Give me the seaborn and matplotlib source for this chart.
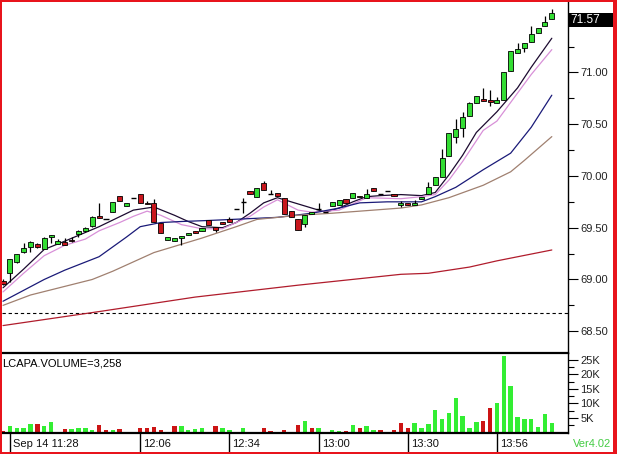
import numpy as np
import pandas as pd
import seaborn as sns
import matplotlib
matplotlib.use("Agg")
import matplotlib.pyplot as plt
from matplotlib.patches import Rectangle
from matplotlib.ticker import FixedLocator, FuncFormatter
import matplotlib.transforms as mtransforms

# candle data, one entry per bar
opens = [68.99, 69.06, 69.17, 69.27, 69.31, 69.34, 69.29, 69.41, 69.34, 69.36,
         69.38, 69.44, 69.47, 69.52, 69.61, 69.58, 69.65, 69.81, 69.71, 69.79,
         69.83, 69.74, 69.74, 69.55, 69.38, 69.37, 69.40, 69.43, 69.47, 69.47,
         69.57, 69.51, 69.56, 69.58, 69.68, 69.75, 69.85, 69.80, 69.93, 69.83,
         69.84, 69.79, 69.66, 69.58, 69.54, 69.63, 69.68, 69.65, 69.71, 69.72,
         69.78, 69.79, 69.81, 69.79, 69.88, 69.83, 69.85, 69.83, 69.72, 69.74,
         69.72, 69.78, 69.83, 69.91, 69.99, 70.19, 70.38, 70.46, 70.58, 70.70,
         70.74, 70.73, 70.70, 70.73, 71.01, 71.19, 71.24, 71.29, 71.38, 71.45,
         71.52]
highs = [69.00, 69.20, 69.25, 69.35, 69.37, 69.35, 69.41, 69.43, 69.39, 69.40,
         69.41, 69.48, 69.51, 69.61, 69.74, 69.58, 69.75, 69.81, 69.74, 69.79,
         69.83, 69.76, 69.78, 69.55, 69.41, 69.40, 69.42, 69.45, 69.47, 69.50,
         69.57, 69.51, 69.56, 69.60, 69.68, 69.79, 69.85, 69.88, 69.95, 69.86,
         69.84, 69.79, 69.66, 69.58, 69.62, 69.65, 69.74, 69.65, 69.75, 69.77,
         69.78, 69.84, 69.81, 69.87, 69.88, 69.83, 69.85, 69.83, 69.76, 69.74,
         69.77, 69.80, 69.94, 69.99, 70.26, 70.41, 70.55, 70.62, 70.71, 70.77,
         70.85, 70.83, 70.76, 71.00, 71.21, 71.28, 71.28, 71.45, 71.43, 71.54,
         71.61]
lows = [68.95, 68.98, 69.16, 69.26, 69.27, 69.30, 69.29, 69.35, 69.34, 69.33,
        69.36, 69.41, 69.46, 69.51, 69.59, 69.58, 69.65, 69.76, 69.71, 69.79,
        69.74, 69.73, 69.56, 69.45, 69.38, 69.37, 69.33, 69.43, 69.45, 69.47,
        69.53, 69.46, 69.54, 69.56, 69.68, 69.64, 69.83, 69.80, 69.86, 69.83,
        69.81, 69.63, 69.60, 69.48, 69.51, 69.63, 69.68, 69.65, 69.71, 69.72,
        69.74, 69.79, 69.80, 69.79, 69.85, 69.83, 69.85, 69.81, 69.70, 69.72,
        69.72, 69.78, 69.83, 69.91, 69.99, 70.19, 70.32, 70.38, 70.58, 70.70,
        70.72, 70.68, 70.70, 70.73, 71.01, 71.19, 71.20, 71.29, 71.38, 71.45,
        71.52]
closes = [68.96, 69.20, 69.25, 69.30, 69.36, 69.31, 69.40, 69.43, 69.37, 69.33,
          69.37, 69.47, 69.50, 69.60, 69.59, 69.58, 69.75, 69.76, 69.74, 69.79,
          69.74, 69.73, 69.56, 69.45, 69.41, 69.40, 69.42, 69.45, 69.45, 69.50,
          69.53, 69.48, 69.54, 69.56, 69.68, 69.75, 69.83, 69.88, 69.86, 69.83,
          69.81, 69.63, 69.60, 69.48, 69.62, 69.65, 69.68, 69.65, 69.75, 69.77,
          69.74, 69.84, 69.80, 69.83, 69.85, 69.83, 69.85, 69.81, 69.74, 69.72,
          69.74, 69.80, 69.89, 69.99, 70.17, 70.41, 70.45, 70.57, 70.70, 70.77,
          70.72, 70.71, 70.73, 71.00, 71.21, 71.23, 71.28, 71.37, 71.43, 71.49,
          71.57]

volumes = [400, 2100, 1700, 1400, 2800, 2800, 2100, 3700, 300, 1100,
           1100, 1500, 1500, 900, 2500, 800, 800, 1100, 300, 300,
           1700, 1500, 1800, 900, 300, 2100, 2100, 900, 1100, 1500,
           300, 2100, 1700, 900, 300, 1500, 300, 300, 1500, 600,
           300, 800, 300, 2500, 4000, 1700, 1700, 300, 800, 500,
           400, 2500, 1700, 2100, 900, 900, 300, 800, 3200, 1500,
           3400, 1400, 2900, 7700, 4600, 6700, 11800, 5700, 1500, 3700,
           4000, 8600, 10100, 26400, 16100, 5500, 4800, 4600, 2000, 6300,
           3258]
vol_dir = list("rgggg" "rgggr" "ggggr" "rgrgr" "rrrrr" "rgggg" "rrggg" "grgrr"
               "rrrrg" "rgggg" "rgrgg" "rrrrr" "ggggg" "ggggg" "rrggg" "ggggg" "g")

# moving averages, read at sample bars
fast_x = [0, 3, 6, 9, 14, 19, 22, 25, 27, 29, 32, 34, 36, 38, 40, 42, 45, 47, 49,
          51, 53, 55, 58, 61, 63, 65, 67, 69, 72, 75, 77, 80]
fast_y = [68.92, 69.10, 69.29, 69.37, 69.51, 69.67, 69.70, 69.62, 69.56, 69.51,
          69.50, 69.55, 69.64, 69.74, 69.79, 69.75, 69.69, 69.65, 69.69, 69.75,
          69.80, 69.81, 69.82, 69.81, 69.84, 70.01, 70.20, 70.42, 70.62, 70.85,
          71.05, 71.33]
mid_x = [0, 3, 6, 9, 12, 14, 17, 19, 21, 23, 26, 29, 32, 36, 38, 40, 43, 45, 49,
         53, 58, 61, 63, 65, 67, 70, 72, 74, 77, 80]
mid_y = [68.88, 69.06, 69.23, 69.33, 69.39, 69.47, 69.55, 69.61, 69.66, 69.62,
         69.53, 69.49, 69.49, 69.61, 69.70, 69.77, 69.67, 69.65, 69.67, 69.79,
         69.78, 69.80, 69.82, 69.96, 70.14, 70.44, 70.53, 70.71, 70.98, 71.22]
ma20_x = [0, 6, 9, 14, 18, 20, 23, 26, 30, 40, 45, 49, 52, 56, 61, 63, 66, 70,
          74, 77, 80]
ma20_y = [68.79, 69.00, 69.09, 69.22, 69.41, 69.51, 69.55, 69.56, 69.57, 69.60,
          69.64, 69.69, 69.74, 69.75, 69.75, 69.80, 69.89, 70.06, 70.22, 70.47,
          70.78]
ma50_x = [0, 4, 10, 13, 16, 19, 22, 26, 29, 34, 37, 43, 48, 58, 61, 65, 70, 74, 76, 80]
ma50_y = [68.75, 68.85, 68.95, 69.00, 69.08, 69.17, 69.26, 69.34, 69.40, 69.51,
          69.58, 69.62, 69.64, 69.69, 69.72, 69.79, 69.91, 70.04, 70.15, 70.38]
ma200_x = [0, 14, 28, 43, 58, 62, 68, 72, 80]
ma200_y = [68.555, 68.69, 68.83, 68.945, 69.05, 69.06, 69.12, 69.18, 69.285]
prev_close = 68.68

tick_slots = [1, 20, 33, 46, 59, 72]
tick_labels = ["Sep 14 11:28", "12:06", "12:34", "13:00", "13:30", "13:56"]

sns.set_style("white")
plt.rcParams['font.family'] = ['Liberation Sans', 'DejaVu Sans']

W, H = 617, 454
fig = plt.figure(figsize=(W / 100, H / 100), dpi=100)
fig.patch.set_facecolor('white')

left, right = 2, 568
ax = fig.add_axes([left / W, 1 - 353 / H, (right - left) / W, (353 - 2) / H])
axv = fig.add_axes([left / W, 1 - 432.5 / H, (right - left) / W, (432.5 - 353) / H], sharex=ax)

idx = np.arange(len(closes))
o = np.array(opens)
c = np.array(closes)
up = c > o
dn = c < o
flat = c == o

# moving average lines
ma_df = {
    'fast': pd.DataFrame({'bar': fast_x, 'price': fast_y}),
    'mid': pd.DataFrame({'bar': mid_x, 'price': mid_y}),
    'ma20': pd.DataFrame({'bar': ma20_x, 'price': ma20_y}),
    'ma50': pd.DataFrame({'bar': ma50_x, 'price': ma50_y}),
    'ma200': pd.DataFrame({'bar': ma200_x, 'price': ma200_y}),
}
ma_colors = {'fast': '#1c0a30', 'mid': '#d890d8', 'ma20': '#1a1a78',
             'ma50': '#a08070', 'ma200': '#b01c2c'}
for name, df in ma_df.items():
    sns.lineplot(data=df, x='bar', y='price', ax=ax, color=ma_colors[name],
                 lw=0.9, zorder=2)

ax.axhline(prev_close, color='black', lw=0.8, ls=(0, (3, 2.5)), zorder=1)

# candles
ax.vlines(idx, lows, highs, color='black', lw=0.9, zorder=3)
ax.bar(idx[up], (c - o)[up], bottom=o[up], width=0.74, color='#33dd33',
       edgecolor='black', lw=0.6, zorder=4)
ax.bar(idx[dn], (o - c)[dn], bottom=c[dn], width=0.74, color='#c8161d',
       edgecolor='black', lw=0.6, zorder=4)
ax.hlines(c[flat], idx[flat] - 0.38, idx[flat] + 0.38, color='black', lw=1, zorder=4)

ax.set_xlim(-0.15, 82.36)
ax.set_ylim(68.29, 71.68)
ax.set_xlabel('')
ax.set_ylabel('')
for s in ['left', 'top', 'bottom']:
    ax.spines[s].set_visible(False)
ax.spines['right'].set_color('black')
ax.spines['right'].set_linewidth(1)
ax.yaxis.tick_right()
ax.yaxis.set_major_locator(FixedLocator([68.5, 69.0, 69.5, 70.0, 70.5, 71.0]))
ax.yaxis.set_minor_locator(FixedLocator([68.75, 69.25, 69.75, 70.25, 70.75, 71.25]))
ax.yaxis.set_major_formatter(FuncFormatter(lambda v, p: f"{v:.2f}"))
ax.tick_params(axis='y', which='major', length=7.5, width=0.8, color='black',
               labelsize=8, labelcolor='#222222', pad=1.5)
ax.tick_params(axis='y', which='minor', length=4.5, width=0.8, color='black')
ax.tick_params(axis='x', bottom=False, labelbottom=False)

# last price tag
tag_h = 0.135
blend = mtransforms.blended_transform_factory(ax.transAxes, ax.transData)
ax.add_patch(Rectangle((1.0, closes[-1] - tag_h), 45 / (right - left), tag_h,
                       transform=blend, facecolor='black', edgecolor='none',
                       clip_on=False, zorder=10))
ax.text(1.0 + 2.5 / (right - left), closes[-1] - tag_h / 2, f"{closes[-1]:.2f}",
        transform=blend, color='white', fontsize=8.5, va='center', ha='left',
        clip_on=False, zorder=11)

# volume
vcol = ['#33ee33' if d == 'g' else '#cc1414' for d in vol_dir]
axv.bar(idx, volumes, width=0.64, color=vcol, lw=0, zorder=2)
axv.set_ylim(0, 27400)
axv.set_xlim(-0.15, 82.36)
axv.spines['left'].set_visible(False)
axv.spines['top'].set_linewidth(1.6)
axv.spines['bottom'].set_linewidth(1.6)
axv.spines['right'].set_linewidth(1)
for s in ['top', 'bottom', 'right']:
    axv.spines[s].set_color('black')
axv.yaxis.tick_right()
axv.yaxis.set_major_locator(FixedLocator([5000, 10000, 15000, 20000, 25000]))
axv.yaxis.set_minor_locator(FixedLocator([2500, 7500, 12500, 17500, 22500]))
axv.yaxis.set_major_formatter(FuncFormatter(lambda v, p: f"{v / 1000:.0f}K"))
axv.tick_params(axis='y', which='major', length=7.5, width=0.8, color='black',
                labelsize=8, labelcolor='#222222', pad=1.5)
axv.tick_params(axis='y', which='minor', length=4.5, width=0.8, color='black')
axv.set_xticks(tick_slots)
axv.tick_params(axis='x', length=14.5, width=1, color='black', direction='out',
                labelbottom=False, bottom=True)
for s, lab in zip(tick_slots, tick_labels):
    axv.annotate(lab, xy=(s, 0), xycoords=('data', 'axes fraction'),
                 xytext=(2.2, -8.3), textcoords='offset points',
                 fontsize=8, color='#111111', ha='left', va='center',
                 annotation_clip=False)
axv.set_xlabel('')
axv.set_ylabel('')
axv.text(0.0, 1 - 10 / 79.5, f"LCAPA.VOLUME={volumes[-1]:,}", transform=axv.transAxes,
         fontsize=8, color='black', ha='left', va='center')

fig.text(573 / W, 1 - 444 / H, "Ver4.02", color='#44cc44', fontsize=8,
         ha='left', va='center')

# red frame around the picture
red = '#e8141c'
for rx, ry, rw, rh in [(0, 0, 2, H), (0, 0, W, 2), (0, H - 2.5, W, 2.5), (613, 0, 4, H)]:
    fig.add_artist(Rectangle((rx / W, 1 - (ry + rh) / H), rw / W, rh / H,
                             transform=fig.transFigure, facecolor=red,
                             edgecolor='none', zorder=20))

fig.savefig("out.png", dpi=100)
